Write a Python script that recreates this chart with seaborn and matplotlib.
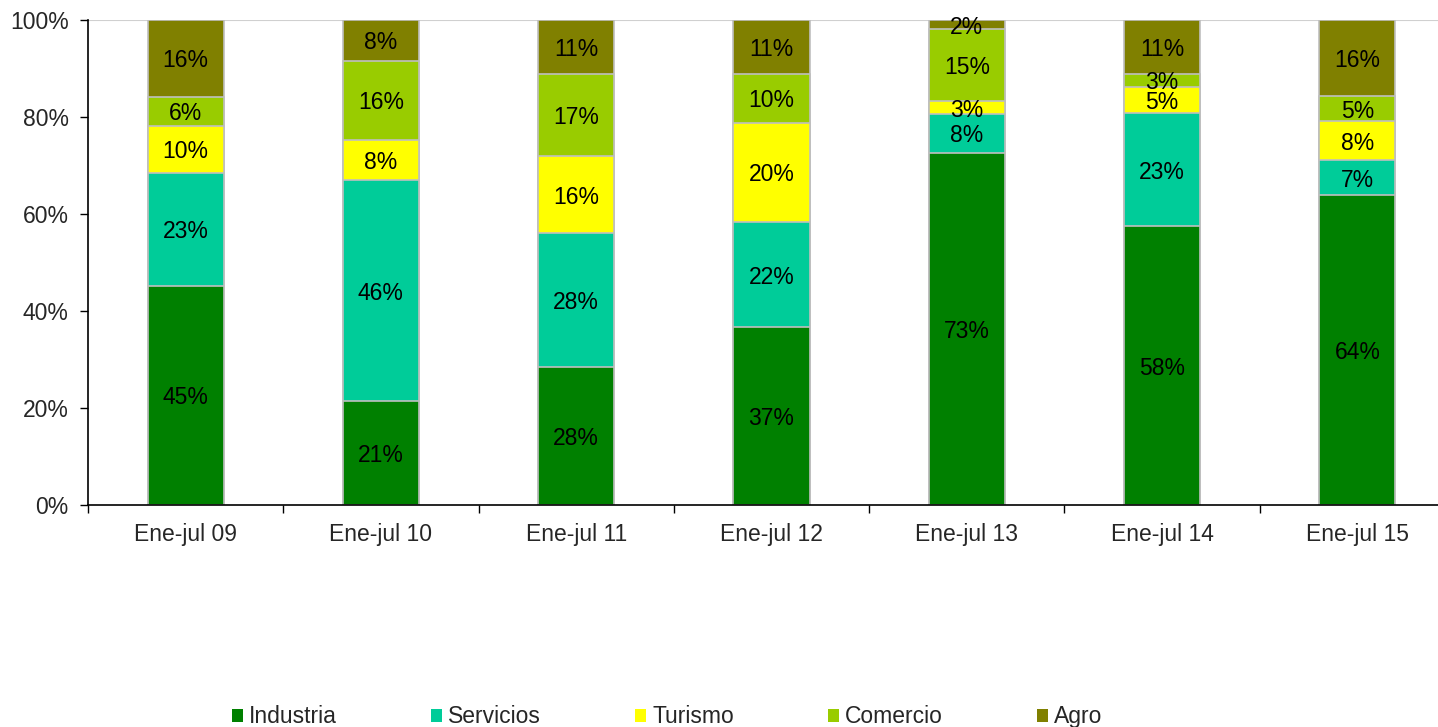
import numpy as np
import pandas as pd
import matplotlib.pyplot as plt
import seaborn as sns
from matplotlib.patches import Patch
from matplotlib.ticker import FixedLocator, PercentFormatter

periodos = ['Ene-jul 09', 'Ene-jul 10', 'Ene-jul 11', 'Ene-jul 12',
            'Ene-jul 13', 'Ene-jul 14', 'Ene-jul 15']
sectores = ['Industria', 'Servicios', 'Turismo', 'Comercio', 'Agro']

# share of each sector (%)
industria = [45.2, 21.4, 28.4, 36.6, 72.6, 57.5, 63.9]
servicios = [23.3, 45.6, 27.7, 21.8, 8.0, 23.3, 7.2]
turismo = [9.7, 8.3, 15.8, 20.4, 2.7, 5.4, 8.1]
comercio = [6.0, 16.3, 17.0, 10.1, 14.8, 2.7, 5.1]
agro = [15.8, 8.4, 11.1, 11.1, 1.9, 11.1, 15.7]

colores = ['#008000', '#00CC99', '#FFFF00', '#99CC00', '#808000']

df = pd.DataFrame({'periodo': periodos, 'Industria': industria,
                   'Servicios': servicios, 'Turismo': turismo,
                   'Comercio': comercio, 'Agro': agro})
acum = df[sectores].cumsum(axis=1)

sns.set_style('white')
plt.rcParams['font.family'] = ['Liberation Sans', 'DejaVu Sans']

fig = plt.figure(figsize=(14.38, 7.27), dpi=100)
ax = fig.add_axes([0.0612, 0.3054, 0.9506, 0.6671])

# stacked bars: draw cumulative totals from the top sector down
for sector, color in reversed(list(zip(sectores, colores))):
    sns.barplot(x=df['periodo'], y=acum[sector], color=color, width=0.39,
                edgecolor='#BFBFBF', linewidth=1.2, saturation=1, ax=ax)

# segment labels
for i in range(len(periodos)):
    base = 0
    for sector in sectores:
        v = df.loc[i, sector]
        ax.text(i, base + v / 2, f'{round(v)}%', ha='center',
                va='center_baseline', fontsize=16.5, color='black')
        base += v

ax.set_xlim(-0.5, 6.5)
ax.set_ylim(0, 100)
ax.set_yticks(np.arange(0, 101, 20))
ax.yaxis.set_major_formatter(PercentFormatter(decimals=0))
ax.axhline(100, color='#D0D0D0', lw=1.5, zorder=0)
ax.set_xlabel('')
ax.set_ylabel('')

for s in ['top', 'right']:
    ax.spines[s].set_visible(False)
for s in ['left', 'bottom']:
    ax.spines[s].set_color('black')
    ax.spines[s].set_linewidth(1.2)

ax.xaxis.set_minor_locator(FixedLocator(np.arange(-0.5, 7, 1)))
ax.tick_params(axis='x', which='major', length=0, pad=13, labelsize=16.5)
ax.tick_params(axis='x', which='minor', direction='out', length=6,
               width=1, color='black', bottom=True)
ax.tick_params(axis='y', direction='out', length=6, width=1, color='black',
               left=True, pad=8, labelsize=16.5)

handles = [Patch(facecolor=c, edgecolor='none', label=s)
           for s, c in zip(sectores, colores)]
fig.legend(handles=handles, loc='lower center', ncol=5, frameon=False,
           bbox_to_anchor=(0.464, -0.03), fontsize=16.5, handlelength=0.5,
           handleheight=0.5, handletextpad=0.25, columnspacing=4.1)

fig.savefig('out.png', dpi=100)
